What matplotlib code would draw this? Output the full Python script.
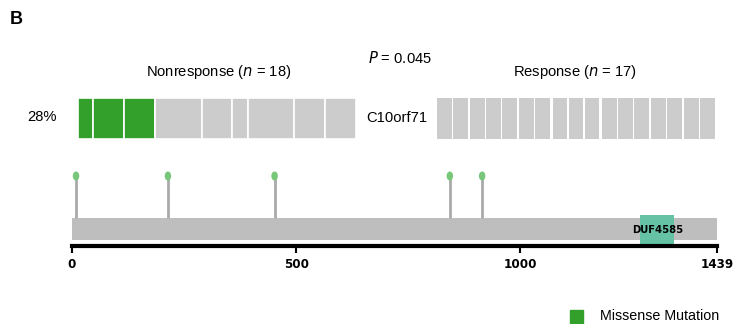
import matplotlib
matplotlib.use("Agg")
import matplotlib.pyplot as plt
from matplotlib.patches import Ellipse, Rectangle
from matplotlib import font_manager

plt.rcParams['font.family'] = ['Liberation Sans', 'DejaVu Sans']

# oncoprint data
gene = 'C10orf71'
nonresp_blocks = [1, 2, 2, 3, 2, 1, 3, 2, 2]          # samples per block
nonresp_mutated = [1, 1, 1, 0, 0, 0, 0, 0, 0]
resp_groups = [2, 3, 2, 3, 3, 2, 2]                    # samples per group, none mutated
n_nonresp, n_resp = 18, 17
pct_label = '28%'
p_value = '0.045'

# lollipop data
prot_len = 1439
mut_pos = [9, 214, 452, 843, 915]
domain_name = 'DUF4585'
domain_start, domain_end = 1268, 1344
xticks = [0, 500, 1000, 1439]

GREEN = '#33a02c'
GRAY = '#cccccc'
W, H = 733, 324

# condensed font for the axis labels, if there is one
names = {f.name for f in font_manager.fontManager.ttflist}
if 'Liberation Sans Narrow' in names:
    narrow = dict(family='Liberation Sans Narrow')
else:
    narrow = dict(family='DejaVu Sans', stretch='condensed')

fig = plt.figure(figsize=(W / 100, H / 100), dpi=100)


def box(x0, y0, x1, y1):
    # pixel box (top-left origin) -> figure fraction rect
    return [x0 / W, 1 - y1 / H, (x1 - x0) / W, (y1 - y0) / H]


# nonresponse panel
ax1 = fig.add_axes(box(78, 98, 356, 139))
left = 0
for w, m in zip(nonresp_blocks, nonresp_mutated):
    ax1.bar(left, 1, width=w, align='edge', color=GREEN if m else GRAY,
            edgecolor='white', linewidth=1.2)
    left += w
ax1.set_xlim(0, sum(nonresp_blocks))
ax1.set_ylim(0, 1)
ax1.axis('off')

# response panel
ax2 = fig.add_axes(box(437, 98, 715, 139))
gap = 0.07
x = 0
for g in resp_groups:
    for _ in range(g):
        ax2.bar(x, 1, width=0.93, align='edge', color=GRAY, linewidth=0)
        x += 1
    x += gap
ax2.set_xlim(0, x - gap - 0.07)
ax2.set_ylim(0, 1)
ax2.axis('off')

fs = 10.6
fig.text(10 / W, 1 - 20 / H, 'B', fontsize=13, fontweight='bold', va='center')
fig.text(219 / W, 1 - 72 / H, f'Nonresponse ($\\it{{n}}$ = {n_nonresp})',
         fontsize=fs, ha='center', va='center')
fig.text(575 / W, 1 - 72 / H, f'Response ($\\it{{n}}$ = {n_resp})',
         fontsize=fs, ha='center', va='center')
fig.text(400 / W, 1 - 58 / H, f'$\\it{{P}}$ = {p_value}',
         fontsize=fs, ha='center', va='center')
fig.text(42 / W, 1 - 117 / H, pct_label, fontsize=fs, ha='center', va='center')
fig.text(397 / W, 1 - 118 / H, gene, fontsize=fs, ha='center', va='center')

# lollipop panel
ax3 = fig.add_axes(box(72, 165, 717, 246))
ax3.set_xlim(0, prot_len)
ax3.set_ylim(0, 81)
ax3.add_patch(Rectangle((0, 6), prot_len, 22, color='#bebebe', lw=0))
ax3.add_patch(Rectangle((domain_start, 2), domain_end - domain_start, 29,
                        color='#66c2a5', lw=0))
ax3.text((domain_start + domain_end) / 2, 16, domain_name, fontsize=8,
         fontweight='bold', ha='center', va='center', **narrow)
px = prot_len / 645
for p in mut_pos:
    ax3.plot([p, p], [28, 70], color='#aaaaaa', lw=2, solid_capstyle='butt', zorder=1)
    ax3.add_patch(Ellipse((p, 70), 6.5 * px, 9, color='#78c679', lw=0, zorder=2))

for s in ['top', 'right', 'left']:
    ax3.spines[s].set_visible(False)
ax3.spines['bottom'].set_linewidth(3)
ax3.set_yticks([])
ax3.set_xticks(xticks)
ax3.tick_params(axis='x', length=5, width=1.5, pad=4)
for lab in ax3.get_xticklabels():
    lab.set_fontproperties(font_manager.FontProperties(size=9.5, weight='bold', **narrow))

# legend
fig.patches.append(Rectangle((570 / W, 1 - 323 / H), 13 / W, 13 / H,
                             color=GREEN, transform=fig.transFigure))
fig.text(600 / W, 1 - 316 / H, 'Missense Mutation', fontsize=10.3, va='center')

fig.savefig('out.png', dpi=100)
